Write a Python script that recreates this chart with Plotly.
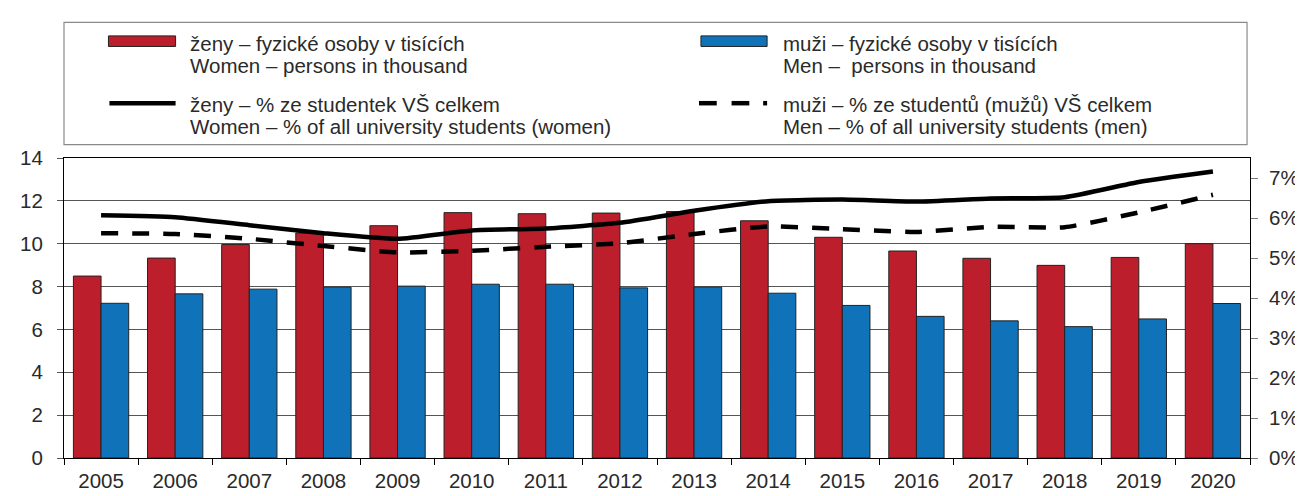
import plotly.graph_objects as go

years = [str(y) for y in range(2005, 2021)]
women_thousands = [8.49, 9.33, 9.96, 10.50, 10.84, 11.45, 11.40, 11.43, 11.50, 11.07, 10.30, 9.66, 9.32, 8.99, 9.36, 10.00]
men_thousands = [7.22, 7.66, 7.88, 7.97, 8.02, 8.11, 8.11, 7.94, 7.97, 7.69, 7.12, 6.61, 6.40, 6.13, 6.49, 7.21]
women_pct = [6.07, 6.02, 5.82, 5.62, 5.48, 5.69, 5.74, 5.88, 6.18, 6.42, 6.46, 6.41, 6.49, 6.52, 6.90, 7.16]
men_pct = [5.62, 5.60, 5.48, 5.30, 5.14, 5.18, 5.28, 5.37, 5.60, 5.79, 5.72, 5.65, 5.78, 5.77, 6.14, 6.58]

legend_texts = [
    ("ženy – fyzické osoby v tisících", "Women – persons in thousand"),
    ("muži – fyzické osoby v tisících", "Men –  persons in thousand"),
    ("ženy – % ze studentek VŠ celkem", "Women – % of all university students (women)"),
    ("muži – % ze studentů (mužů) VŠ celkem", "Men – % of all university students (men)"),
]

RED = "#BC1F2B"
BLUE = "#1072B9"
FONT = "Arial, Liberation Sans, sans-serif"
TXT = "#2a2a2a"
TICK = 20.5
LEG = 20.5

W, H = 1303, 496
L, R, T, B = 51, 51, 150, 34
pw, ph = W - L - R, H - T - B

def px(x):
    return (x - L) / pw

def py(y):
    return (H - B - y) / ph

fig = go.Figure()
fig.add_trace(go.Bar(x=years, y=women_thousands, name=legend_texts[0][0],
                     marker=dict(color=RED, line=dict(color="#222", width=1))))
fig.add_trace(go.Bar(x=years, y=men_thousands, name=legend_texts[1][0],
                     marker=dict(color=BLUE, line=dict(color="#222", width=1))))
fig.add_trace(go.Scatter(x=years, y=women_pct, yaxis="y2", mode="lines", name=legend_texts[2][0],
                         line=dict(color="black", width=4.5, shape="spline", smoothing=0.5)))
fig.add_trace(go.Scatter(x=years, y=men_pct, yaxis="y2", mode="lines", name=legend_texts[3][0],
                         line=dict(color="black", width=4.5, dash="17px,14px", shape="spline", smoothing=0.5)))

shapes = []
annotations = []
# legend box
shapes.append(dict(type="rect", xref="paper", yref="paper", x0=px(51), x1=px(1249), y0=py(136), y1=py(9),
                   line=dict(color="#8a8a8a", width=1.2), fillcolor="white", layer="below"))
# swatches
shapes.append(dict(type="rect", xref="paper", yref="paper", x0=px(96), x1=px(164), y0=py(34), y1=py(23),
                   fillcolor=RED, line=dict(color="#222", width=1)))
shapes.append(dict(type="rect", xref="paper", yref="paper", x0=px(696), x1=px(763), y0=py(34), y1=py(23),
                   fillcolor=BLUE, line=dict(color="#222", width=1)))
shapes.append(dict(type="line", xref="paper", yref="paper", x0=px(97), x1=px(164), y0=py(93), y1=py(93),
                   line=dict(color="black", width=4.5)))
for a, b in [(694, 712), (727, 745), (759, 763)]:
    shapes.append(dict(type="line", xref="paper", yref="paper", x0=px(a), x1=px(b), y0=py(93), y1=py(93),
                       line=dict(color="black", width=4.5)))

text_pos = [(177, 31, 54), (777, 31, 54), (177, 94, 117), (777, 94, 117)]
for (t1, t2), (x, y1, y2) in zip(legend_texts, text_pos):
    for t, yy in [(t1, y1), (t2, y2)]:
        annotations.append(dict(text=t, xref="paper", yref="paper", x=px(x), y=py(yy),
                                xanchor="left", yanchor="middle", showarrow=False,
                                font=dict(family=FONT, size=LEG, color=TXT)))

fig.update_layout(
    width=W, height=H,
    margin=dict(l=L, r=R, t=T, b=B),
    paper_bgcolor="white", plot_bgcolor="white",
    barmode="group", bargap=0.254, bargroupgap=0,
    showlegend=False,
    font=dict(family=FONT, size=TICK, color=TXT),
    shapes=shapes, annotations=annotations,
    xaxis=dict(type="category", tickson="boundaries", ticks="outside", ticklen=6, tickcolor="black",
               showline=True, linecolor="black", linewidth=1, mirror=True, showgrid=False,
               ticklabelstandoff=4, tickfont=dict(size=TICK, color=TXT)),
    yaxis=dict(range=[0, 14], dtick=2, ticks="outside", ticklen=6, tickcolor="#555",
               showline=True, linecolor="black", linewidth=1, showgrid=True, gridcolor="#555",
               gridwidth=1, zeroline=False, ticklabelstandoff=10, tickfont=dict(size=TICK, color=TXT)),
    yaxis2=dict(range=[0, 7.5], dtick=1, overlaying="y", side="right", ticksuffix="%",
                ticks="outside", ticklen=7, tickcolor="#777", showline=True, linecolor="black",
                linewidth=1, showgrid=False, zeroline=False, ticklabelstandoff=7,
                tickfont=dict(size=TICK, color=TXT)),
)

fig.write_html("out.html")
